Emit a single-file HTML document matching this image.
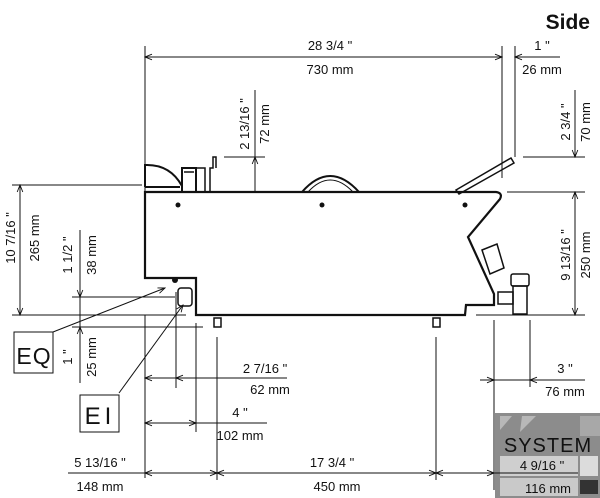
<!DOCTYPE html>
<html><head><meta charset="utf-8"><style>
html,body{margin:0;padding:0;background:#fff;}
svg{display:block;}
text{font-family:"Liberation Sans",sans-serif;fill:#111;}
.d{font-family:"Liberation Sans Narrow","Liberation Sans",sans-serif;font-size:13px;}
</style></head><body>
<svg width="600" height="498" viewBox="0 0 600 498" xmlns="http://www.w3.org/2000/svg">
<defs>
<marker id="a" viewBox="0 0 10 10" refX="10" refY="5" markerWidth="9" markerHeight="7" orient="auto-start-reverse" markerUnits="userSpaceOnUse"><path d="M0,1 L10,5 L0,9" fill="none" stroke="#111" stroke-width="1.3"/></marker>
</defs>
<g stroke="#111" fill="none">
<g stroke-width="1">
<line x1="145" y1="46" x2="145" y2="192"/>
<line x1="502" y1="46" x2="502" y2="178"/>
<line x1="515" y1="46" x2="515" y2="157"/>
<line x1="224" y1="157" x2="265" y2="157"/>
<line x1="523" y1="157" x2="585" y2="157"/>
<line x1="507" y1="192" x2="585" y2="192"/>
<line x1="12" y1="185" x2="142" y2="185"/>
<line x1="12" y1="315" x2="186" y2="315"/>
<line x1="476" y1="315" x2="585" y2="315"/>
<line x1="72" y1="297" x2="175" y2="297"/>
<line x1="72" y1="327" x2="203" y2="327"/>
<line x1="145" y1="315" x2="145" y2="478"/>
<line x1="176" y1="292" x2="176" y2="388"/>
<line x1="196" y1="323" x2="196" y2="432"/>
<line x1="217" y1="337" x2="217" y2="480"/>
<line x1="436" y1="337" x2="436" y2="480"/>
<line x1="494" y1="320" x2="494" y2="490"/>
<line x1="530" y1="320" x2="530" y2="387"/>
</g>
<g stroke-width="1">
<line x1="145" y1="57" x2="502" y2="57" marker-start="url(#a)" marker-end="url(#a)"/>
<line x1="560" y1="57" x2="515" y2="57" marker-end="url(#a)"/>
<line x1="255" y1="90" x2="255" y2="192"/>
<line x1="255" y1="185" x2="255" y2="157" marker-end="url(#a)"/>
<line x1="575" y1="90" x2="575" y2="157" marker-end="url(#a)"/>
<line x1="575" y1="192" x2="575" y2="315" marker-start="url(#a)" marker-end="url(#a)"/>
<line x1="20" y1="185" x2="20" y2="315" marker-start="url(#a)" marker-end="url(#a)"/>
<line x1="80" y1="230" x2="80" y2="297" marker-end="url(#a)"/>
<line x1="80" y1="383" x2="80" y2="327" marker-end="url(#a)"/>
<line x1="80" y1="297" x2="80" y2="327"/>
<line x1="287" y1="378" x2="176" y2="378" marker-end="url(#a)"/>
<line x1="176" y1="378" x2="145" y2="378" marker-end="url(#a)"/>
<line x1="145" y1="423" x2="196" y2="423" marker-start="url(#a)" marker-end="url(#a)"/>
<line x1="196" y1="423" x2="267" y2="423"/>
<line x1="68" y1="473" x2="500" y2="473"/>
<line x1="145" y1="473" x2="217" y2="473" marker-start="url(#a)" marker-end="url(#a)"/>
<line x1="217" y1="473" x2="436" y2="473" marker-start="url(#a)" marker-end="url(#a)"/>
<line x1="436" y1="473" x2="494" y2="473" marker-start="url(#a)" marker-end="url(#a)"/>
<line x1="480" y1="380" x2="494" y2="380" marker-end="url(#a)"/>
<line x1="494" y1="380" x2="530" y2="380"/>
<line x1="585" y1="380" x2="530" y2="380" marker-end="url(#a)"/>
<line x1="53" y1="332" x2="165" y2="288" marker-end="url(#a)"/>
<line x1="119" y1="393" x2="183" y2="305" marker-end="url(#a)"/>
</g>
<path d="M145,192 L496,192 Q503,193 500,199 L468,237 L494,294 L494,305 L466,305 L465,315 L196,315 L196,278 L145,278 Z" stroke-width="2.2"/>
<line x1="145" y1="187" x2="180" y2="187" stroke-width="2"/>
<path d="M145,187 L145,165 Q170,164 182,186" stroke-width="2"/>
<rect x="182" y="168" width="14" height="24" stroke-width="2"/>
<path d="M196,168 L205,168 L205,192 M184,172 L194,172" stroke-width="1.5"/>
<path d="M210,192 L210,168 L213,168 L213,157 L216,157 L216,168" stroke-width="1.5"/>
<path d="M302,192 Q330,160 359,192" stroke-width="2"/>
<path d="M308,192 Q330,168 353,192" stroke-width="1"/>
<path d="M456,190 L511,158 L514,163 L459,194 Z" stroke-width="1.5"/>
<path d="M482,250 L497,244 L504,268 L490,274 Z" stroke-width="1.5"/>
<rect x="511" y="274" width="18" height="12" rx="2" stroke-width="1.5"/>
<rect x="513" y="286" width="14" height="28" stroke-width="1.5"/>
<rect x="498" y="292" width="15" height="12" stroke-width="1.5"/>
<rect x="178" y="288" width="14" height="18" rx="3" stroke-width="1.5"/>
<rect x="214" y="318" width="7" height="9" stroke-width="1.5"/>
<rect x="433" y="318" width="7" height="9" stroke-width="1.5"/>
<rect x="14" y="332" width="39" height="41" stroke-width="1"/>
<rect x="80" y="395" width="39" height="37" stroke-width="1"/>
</g>
<g fill="#111">
<circle cx="178" cy="205" r="2.5"/><circle cx="322" cy="205" r="2.5"/><circle cx="465" cy="205" r="2.5"/>
<circle cx="175" cy="280" r="3"/>
</g>
<text x="590" y="29" text-anchor="end" font-size="21" font-weight="bold">Side</text>
<g class="d" text-anchor="middle">
<text x="330" y="50">28 3/4 "</text>
<text x="330" y="74">730 mm</text>
<text x="542" y="50">1 "</text>
<text x="542" y="74">26 mm</text>
<text x="265" y="373">2 7/16 "</text>
<text x="270" y="394">62 mm</text>
<text x="240" y="417">4 "</text>
<text x="240" y="440">102 mm</text>
<text x="565" y="373">3 "</text>
<text x="565" y="396">76 mm</text>
<text x="100" y="467">5 13/16 "</text>
<text x="100" y="491">148 mm</text>
<text x="332" y="467">17 3/4 "</text>
<text x="337" y="491">450 mm</text>
<text transform="translate(249,124) rotate(-90)">2 13/16 "</text>
<text transform="translate(269,124) rotate(-90)">72 mm</text>
<text transform="translate(570,122) rotate(-90)">2 3/4 "</text>
<text transform="translate(590,122) rotate(-90)">70 mm</text>
<text transform="translate(570,255) rotate(-90)">9 13/16 "</text>
<text transform="translate(590,255) rotate(-90)">250 mm</text>
<text transform="translate(15,238) rotate(-90)">10 7/16 "</text>
<text transform="translate(39,238) rotate(-90)">265 mm</text>
<text transform="translate(72,255) rotate(-90)">1 1/2 "</text>
<text transform="translate(96,255) rotate(-90)">38 mm</text>
<text transform="translate(72,357) rotate(-90)">1 "</text>
<text transform="translate(96,357) rotate(-90)">25 mm</text>
</g>
<text x="34" y="364" text-anchor="middle" font-size="23" letter-spacing="1">EQ</text>
<text x="100" y="424" text-anchor="middle" font-size="24" letter-spacing="4">EI</text>
<rect x="495" y="413" width="105" height="85" fill="#8c8c8c"/>
<path d="M500,416 L512,416 L500,430 Z M522,416 L536,416 L520,432 Z" fill="#b8b8b8"/>
<rect x="580" y="416" width="20" height="20" fill="#a8a8a8"/>
<text x="548" y="452" text-anchor="middle" font-size="20" fill="#bfe6ea" letter-spacing="1" font-family="Liberation Mono,monospace">SYSTEM</text>
<rect x="500" y="456" width="78" height="20" fill="#cfcfcf"/>
<rect x="500" y="478" width="78" height="18" fill="#c9c9c9"/>
<rect x="580" y="456" width="18" height="20" fill="#dcdcdc"/>
<rect x="580" y="480" width="18" height="14" fill="#333"/>
<line x1="494" y1="473" x2="578" y2="473" stroke="#111"/>
<text class="d" x="542" y="470" text-anchor="middle">4 9/16 "</text>
<text class="d" x="548" y="493" text-anchor="middle">116 mm</text>
</svg>
</body></html>
